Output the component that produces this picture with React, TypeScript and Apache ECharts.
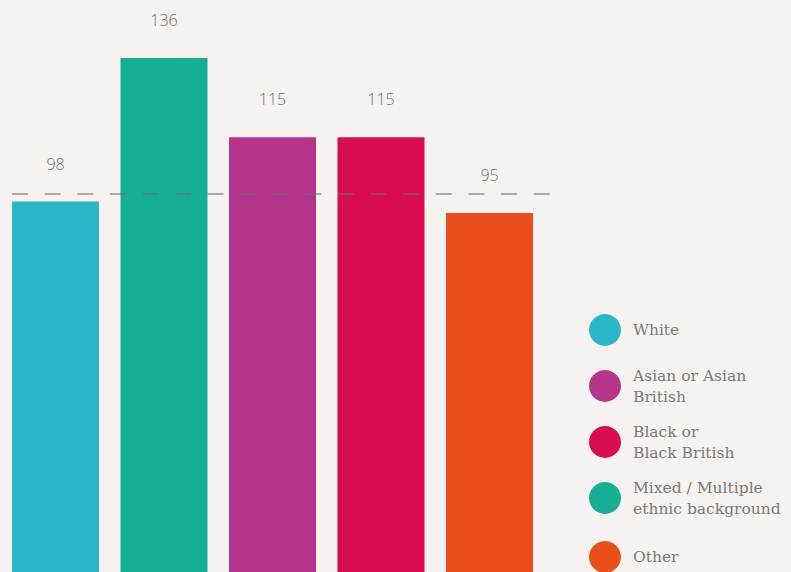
import React, { useEffect, useRef } from "react";
import * as echarts from "echarts";

const categories = ["White", "Mixed / Multiple ethnic background", "Asian or Asian British", "Black or Black British", "Other"];
const values = [98, 136, 115, 115, 95];
const barColors = ["#2bb8c6", "#16af96", "#b6348b", "#d80c50", "#e94e1b"];
const referenceValue = 100;

const legendLabels = ["White", "Asian or Asian\nBritish", "Black or\nBlack British", "Mixed / Multiple\nethnic background", "Other"];
const legendColors = ["#2bb8c6", "#b6348b", "#d80c50", "#16af96", "#e94e1b"];
const legendCenters = [330, 386, 442, 498, 557];

export default function App() {
  const ref = useRef<HTMLDivElement>(null);
  useEffect(() => {
    if (!ref.current) return;
    document.body.style.margin = "0";
    const chart = echarts.init(ref.current, null, { renderer: "svg" });
    chart.setOption({
      animation: false,
      backgroundColor: "#f6f2ef",
      grid: { left: 1.25, right: 247.25, top: 5, bottom: 0 },
      xAxis: { type: "category", data: categories, show: false },
      yAxis: { type: "value", min: 0, max: 150, show: false },
      series: [
        {
          type: "bar",
          barWidth: 87,
          data: values.map((v, i) => ({ value: v, itemStyle: { color: barColors[i] } })),
          label: {
            show: true,
            position: "top",
            distance: 30,
            fontFamily: "Open Sans",
            fontWeight: 300,
            fontSize: 16,
            color: "#6e6e6e",
          },
        },
      ],
    });
    const yPx = chart.convertToPixel({ yAxisIndex: 0 }, referenceValue) as number;
    const legendChildren: any[] = [];
    legendLabels.forEach((t, i) => {
      legendChildren.push({
        type: "circle",
        shape: { cx: 605, cy: legendCenters[i], r: 16 },
        style: { fill: legendColors[i] },
      });
      legendChildren.push({
        type: "text",
        x: 633,
        y: legendCenters[i],
        style: {
          text: t,
          fontFamily: "DejaVu Serif",
          fontSize: 15.5,
          lineHeight: 21,
          fill: "#7a7a7a",
          verticalAlign: "middle",
          align: "left",
        },
      });
    });
    chart.setOption({
      graphic: [
        {
          type: "line",
          shape: { x1: 12, y1: yPx, x2: 550, y2: yPx },
          style: { stroke: "rgba(110,110,110,0.55)", lineWidth: 2, lineDash: [16, 16.6] },
          z: 100,
        },
        ...legendChildren,
      ],
    });
    return () => chart.dispose();
  }, []);
  return <div ref={ref} style={{ position: "fixed", left: 0, top: 0, width: 791, height: 572 }} />;
}
